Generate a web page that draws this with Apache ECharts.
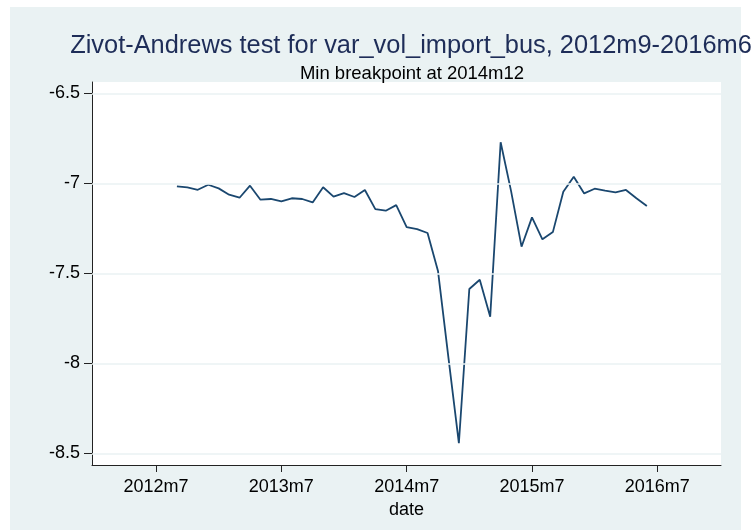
<!DOCTYPE html>
<html>
<head>
<meta charset="utf-8">
<script src="https://cdn.jsdelivr.net/npm/echarts@6/dist/echarts.min.js"></script>
<style>
html,body{margin:0;padding:0;background:#ffffff;}
#chart{width:756px;height:530px;}
</style>
</head>
<body>
<div id="chart"></div>
<script>
// ---- data ----
var titleText = 'Zivot-Andrews test for var_vol_import_bus, 2012m9-2016m6';
var subtitleText = 'Min breakpoint at 2014m12';
var xAxisName = 'date';
// month index counted from 2012m7 = 0
var firstIndex = 2; // 2012m9
var values = [
  -7.017, -7.022, -7.036, -7.008, -7.028, -7.063, -7.080, -7.013, -7.091, -7.087,
  -7.100, -7.083, -7.087, -7.106, -7.022, -7.074, -7.054, -7.076, -7.037, -7.143,
  -7.152, -7.121, -7.243, -7.254, -7.276, -7.487, -7.968, -8.444, -7.587, -7.536,
  -7.741, -6.772, -7.043, -7.352, -7.189, -7.311, -7.271, -7.047, -6.963, -7.056,
  -7.030, -7.041, -7.050, -7.037, -7.083, -7.126
];
var xTickValues = [0, 12, 24, 36, 48];
var xTickLabels = ['2012m7', '2013m7', '2014m7', '2015m7', '2016m7'];
var yTickValues = [-8.5, -8, -7.5, -7, -6.5];
var yTickLabels = ['-8.5', '-8', '-7.5', '-7', '-6.5'];

var seriesData = values.map(function (v, i) { return [firstIndex + i, v]; });

var FONT = "'Liberation Sans', Arial, sans-serif";
var chart = echarts.init(document.getElementById('chart'), null, {renderer: 'canvas'});
chart.setOption({
  animation: false,
  backgroundColor: '#ffffff',
  graphic: [{
    type: 'rect', z: -10, silent: true,
    shape: {x: 10, y: 7, width: 731, height: 523},
    style: {fill: '#eaf2f3'}
  }],
  title: [{
    text: titleText,
    left: 406, top: 28, textAlign: 'center',
    textStyle: {fontFamily: FONT, fontSize: 25.4, fontWeight: 'normal', color: '#1e2d58'}
  }, {
    text: subtitleText,
    left: 407, top: 59, textAlign: 'center',
    textStyle: {fontFamily: FONT, fontSize: 18.5, fontWeight: 'normal', color: '#000000'}
  }],
  grid: {left: 92, right: 35, top: 82, bottom: 65, show: true, backgroundColor: '#ffffff', borderWidth: 0},
  xAxis: {
    type: 'value', min: -6.13, max: 54.1,
    name: xAxisName, nameLocation: 'middle', nameGap: 33,
    nameTextStyle: {fontFamily: FONT, fontSize: 18, color: '#000'},
    axisLine: {show: true, onZero: false, lineStyle: {color: '#222', width: 1}},
    axisTick: {show: true, length: 7, customValues: xTickValues, lineStyle: {color: '#222'}},
    axisLabel: {
      customValues: xTickValues, margin: 13,
      fontFamily: FONT, fontSize: 18, color: '#000',
      formatter: function (v) { var k = xTickValues.indexOf(v); return k >= 0 ? xTickLabels[k] : ''; }
    },
    splitLine: {show: false}
  },
  yAxis: {
    type: 'value', min: -8.565, max: -6.437,
    axisLine: {show: true, onZero: false, lineStyle: {color: '#222', width: 1}},
    axisTick: {show: true, length: 8, customValues: yTickValues, lineStyle: {color: '#222'}},
    axisLabel: {
      customValues: yTickValues, margin: 12,
      fontFamily: FONT, fontSize: 18, color: '#000',
      formatter: function (v) { var k = yTickValues.indexOf(v); return k >= 0 ? yTickLabels[k] : ''; }
    },
    splitLine: {show: false}
  },
  series: [{
    type: 'line', data: [], z: 1, silent: true,
    markLine: {
      silent: true, symbol: 'none', label: {show: false},
      lineStyle: {color: '#eaf2f3', width: 1.5, type: 'solid'},
      data: yTickValues.map(function (v) { return {yAxis: v}; })
    }
  }, {
    type: 'line', data: seriesData, z: 3,
    showSymbol: false, symbol: 'none',
    lineStyle: {color: '#1a476f', width: 1.8},
    itemStyle: {color: '#1a476f'}
  }]
});
</script>
</body>
</html>
